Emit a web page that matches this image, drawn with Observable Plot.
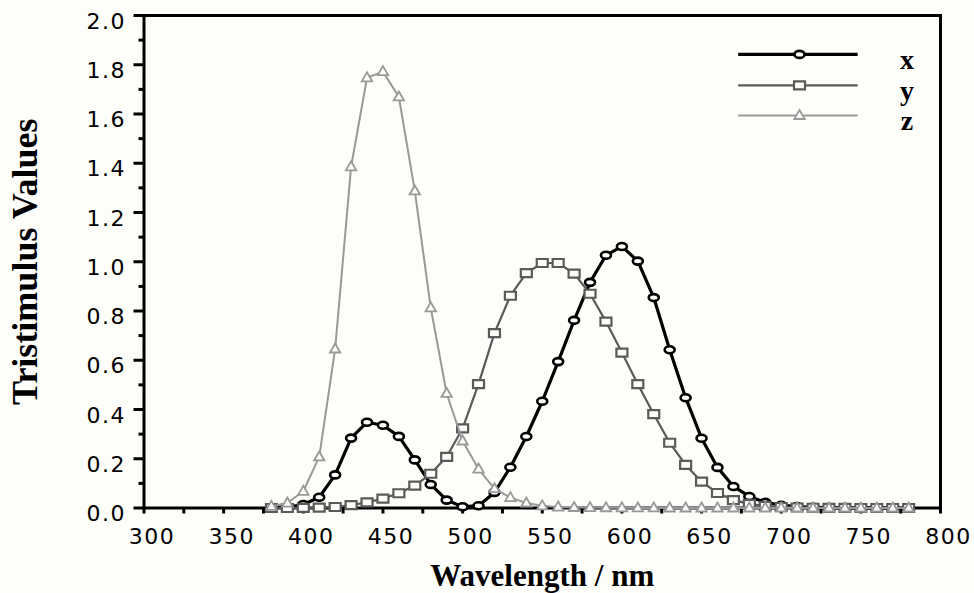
<!DOCTYPE html>
<html>
<head>
<meta charset="utf-8">
<script src="https://cdn.jsdelivr.net/npm/d3@7"></script>
<script src="https://cdn.jsdelivr.net/npm/@observablehq/plot@0.6"></script>
<style>
  html, body { margin: 0; padding: 0; background: #fdfdfa; }
  svg [aria-label="y-axis tick label"] text,
  svg [aria-label="x-axis tick label"] text { letter-spacing: 1.5px; }
</style>
</head>
<body>
<div id="chart"></div>
<script>
// Wavelength samples (nm)
const wavelengths = [380,390,400,410,420,430,440,450,460,470,480,490,500,510,520,530,540,550,560,570,
  580,590,600,610,620,630,640,650,660,670,680,690,700,710,720,730,740,750,760,770,780];
// Tristimulus values
const xValues = [0.0014,0.0042,0.0143,0.0435,0.1344,0.2839,0.3483,0.3362,0.2908,0.1954,0.0956,0.0320,0.0049,0.0093,0.0633,0.1655,0.2904,0.4334,0.5945,0.7621,
  0.9163,1.0263,1.0622,1.0026,0.8545,0.6424,0.4479,0.2835,0.1649,0.0874,0.0468,0.0227,0.0114,0.0058,0.0029,0.0014,0.0007,0.0003,0.0002,0.0001,0.0000];
const yValues = [0.0000,0.0001,0.0004,0.0012,0.0040,0.0116,0.0230,0.0380,0.0600,0.0910,0.1390,0.2080,0.3230,0.5030,0.7100,0.8620,0.9540,0.9950,0.9950,0.9520,
  0.8700,0.7570,0.6310,0.5030,0.3810,0.2650,0.1750,0.1070,0.0610,0.0320,0.0170,0.0082,0.0041,0.0021,0.0010,0.0005,0.0002,0.0001,0.0001,0.0000,0.0000];
const zValues = [0.0065,0.0201,0.0679,0.2074,0.6456,1.3856,1.7471,1.7721,1.6692,1.2876,0.8130,0.4652,0.2720,0.1582,0.0783,0.0422,0.0203,0.0088,0.0039,0.0021,
  0.0017,0.0011,0.0008,0.0003,0.0002,0.0000,0.0000,0.0000,0.0000,0.0000,0.0000,0.0000,0.0000,0.0000,0.0000,0.0000,0.0000,0.0000,0.0000,0.0000,0.0000];
const seriesNames = ["x", "y", "z"];
const xMajorTicks = [300,350,400,450,500,550,600,650,700,750,800];
const xMinorTicks = [325,375,425,475,525,575,625,675,725,775];
const yMajorTicks = [0,0.2,0.4,0.6,0.8,1.0,1.2,1.4,1.6,1.8,2.0];
const yMinorTicks = [0.1,0.3,0.5,0.7,0.9,1.1,1.3,1.5,1.7,1.9];
const xTitle = "Wavelength / nm";
const yTitle = "Tristimulus Values";

// Build tidy table
const valuesBySeries = {x: xValues, y: yValues, z: zValues};
const table = seriesNames.flatMap(s => wavelengths.map((w, i) => ({series: s, wavelength: w, value: valuesBySeries[s][i]})));

// Marker symbols
const K = 0.5523;
const ellipseSymbol = {draw(ctx) {
  const rx = 5, ry = 3.5;
  ctx.moveTo(rx, 0);
  ctx.bezierCurveTo(rx, ry*K, rx*K, ry, 0, ry);
  ctx.bezierCurveTo(-rx*K, ry, -rx, ry*K, -rx, 0);
  ctx.bezierCurveTo(-rx, -ry*K, -rx*K, -ry, 0, -ry);
  ctx.bezierCurveTo(rx*K, -ry, rx, -ry*K, rx, 0);
  ctx.closePath();
}};
const rectSymbol = {draw(ctx) { ctx.rect(-5.5, -4, 11, 8); }};
const triSymbol = {draw(ctx) {
  ctx.moveTo(0, -5.5); ctx.lineTo(5.2, 3.5); ctx.lineTo(-5.2, 3.5); ctx.closePath();
}};

const styles = {
  x: {stroke: "#000", lineWidth: 3.2, symbol: ellipseSymbol, markWidth: 2.6},
  y: {stroke: "#5a5a5a", lineWidth: 2.2, symbol: rectSymbol, markWidth: 2.2},
  z: {stroke: "#999999", lineWidth: 2, symbol: triSymbol, markWidth: 1.8}
};
const bg = "#fdfdfa";

// Legend placement (data units)
const legendLayout = {x1: 673, x2: 748, xMark: 711.5, xText: 779, y: {x: 1.842, y: 1.716, z: 1.594}};

const seriesMarks = seriesNames.flatMap(s => {
  const st = styles[s];
  const rows = table.filter(d => d.series === s);
  return [
    Plot.line(rows, {x: "wavelength", y: "value", stroke: st.stroke, strokeWidth: st.lineWidth}),
    Plot.dot(rows, {x: "wavelength", y: "value", symbol: st.symbol, fill: bg, stroke: st.stroke, strokeWidth: st.markWidth})
  ];
});

const legendMarks = seriesNames.flatMap(s => {
  const st = styles[s];
  const row = [{series: s, y: legendLayout.y[s]}];
  return [
    Plot.link(row, {x1: () => legendLayout.x1, x2: () => legendLayout.x2, y1: "y", y2: "y", stroke: st.stroke, strokeWidth: st.lineWidth}),
    Plot.dot(row, {x: () => legendLayout.xMark, y: "y", symbol: st.symbol, fill: bg, stroke: st.stroke, strokeWidth: st.markWidth}),
    Plot.text(row, {x: () => legendLayout.xText, y: "y", text: "series", fontFamily: "Liberation Serif, Times New Roman, serif", fontWeight: "bold", fontSize: 28, dy: 6, fill: "#000"})
  ];
});

const chart = Plot.plot({
  width: 974,
  height: 593,
  marginLeft: 143.5,
  marginRight: 34,
  marginTop: 15,
  marginBottom: 85.5,
  style: {background: bg, fontFamily: "DejaVu Sans, sans-serif", color: "#000", overflow: "visible"},
  x: {domain: [300, 800]},
  y: {domain: [0, 2]},
  marks: [
    Plot.axisY({ticks: yMajorTicks, tickSize: 10, strokeWidth: 3, fill: "none", label: null}),
    Plot.axisY({ticks: yMinorTicks, tickSize: 5, strokeWidth: 3, fill: "none", label: null}),
    Plot.axisY({ticks: yMajorTicks, tickSize: 0, tickPadding: 18, fontSize: 22, dy: 6, tickFormat: d3.format(".1f"), label: null}),
    Plot.axisX({ticks: xMajorTicks, tickSize: 6, strokeWidth: 3, fill: "none", label: null}),
    Plot.axisX({ticks: xMinorTicks, tickSize: 6, strokeWidth: 3, fill: "none", label: null}),
    Plot.axisX({ticks: xMajorTicks, tickSize: 0, tickPadding: 20, fontSize: 22, dx: 8, tickFormat: d => String(d), label: null}),
    Plot.frame({stroke: "#000", strokeWidth: 3}),
    ...seriesMarks,
    ...legendMarks,
    Plot.text([yTitle], {text: d => d, frameAnchor: "left", textAnchor: "middle", lineAnchor: "middle", rotate: -90, dx: -118.5, fontFamily: "Liberation Serif, Times New Roman, serif", fontWeight: "bold", fontSize: 36, fill: "#000"}),
    Plot.text([xTitle], {text: d => d, frameAnchor: "bottom", textAnchor: "middle", lineAnchor: "middle", dy: 68.5, fontFamily: "Liberation Serif, Times New Roman, serif", fontWeight: "bold", fontSize: 31, fill: "#000"})
  ]
});
document.getElementById("chart").appendChild(chart);
</script>
</body>
</html>
